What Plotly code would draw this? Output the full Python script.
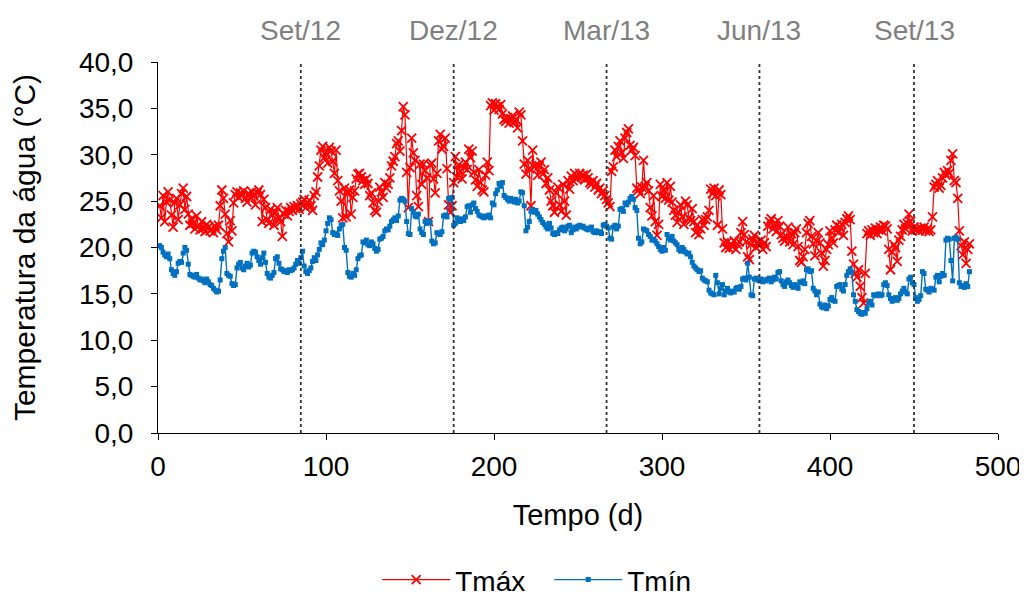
import plotly.graph_objects as go

tmax = [
    24.5, 23.2, 25.6, 22.8, 24.9, 26.0, 25.1, 23.5, 22.2, 24.8,
    25.3, 23.0, 24.6, 25.8, 26.4, 24.1, 25.5, 23.6, 22.4, 23.1,
    22.6, 22.0, 23.4, 22.3, 21.9, 22.8, 22.1, 21.7, 22.5, 22.2,
    21.8, 22.0, 21.6, 22.3, 21.9, 22.4, 24.5, 26.2, 25.3, 23.6,
    21.5, 20.6, 22.9, 21.8, 24.8, 25.7, 26.0, 25.4, 25.9, 25.6,
    26.1, 25.3, 24.9, 25.8, 25.4, 26.0, 25.6, 24.6, 25.9, 26.2,
    25.7, 22.8, 25.2, 24.3, 23.0, 22.6, 24.1, 23.5, 22.4, 23.8,
    24.3, 23.2, 22.8, 21.2, 23.6, 24.0, 23.4, 23.9, 24.3, 24.0,
    24.4, 24.2, 24.5, 24.1, 24.7, 24.9, 25.2, 24.3, 24.8, 25.1,
    24.5, 24.0, 25.6, 26.0, 27.6, 28.8, 30.5, 30.9, 29.7, 30.2,
    29.1, 30.8, 30.4, 29.3, 28.0, 30.5, 27.2, 26.1, 25.0, 23.2,
    26.4, 23.3, 25.8, 26.2, 23.6, 25.4, 26.1, 27.4, 27.9, 28.0,
    27.6, 27.2, 26.8, 27.4, 26.9, 25.6, 25.9, 24.8, 24.0, 23.8,
    25.0, 26.5, 26.0, 25.4, 27.0, 26.4, 26.8, 27.5, 28.8, 29.3,
    29.8, 31.2, 31.5, 30.4, 32.6, 35.2, 34.3, 28.1, 24.3, 28.6,
    31.8, 30.2, 29.4, 25.6, 24.4, 29.0, 26.8, 29.0, 28.3, 27.5,
    22.8, 28.9, 29.1, 27.4, 25.9, 28.0, 31.5, 32.2, 30.6, 30.9,
    31.8, 28.5, 24.6, 23.8, 24.5, 27.0, 29.8, 27.6, 28.9, 28.2,
    27.4, 28.6, 29.2, 28.4, 30.6, 29.7, 30.4, 28.1, 27.3, 26.6,
    28.4, 27.0, 26.2, 26.0, 27.8, 29.2, 28.3, 35.3, 35.6, 34.8,
    35.5, 35.2, 34.9, 35.4, 34.4, 33.8, 33.6, 34.0, 33.4, 33.9,
    34.2, 33.5, 33.8, 32.9, 34.6, 34.3, 31.5, 29.0, 27.9, 29.4,
    28.5, 24.5, 30.5, 28.7, 28.9, 27.8, 28.8, 29.2, 27.9, 28.4,
    26.9, 27.5, 26.2, 25.0, 24.5, 23.8, 25.9, 26.5, 24.6, 23.9,
    26.8, 25.0, 23.5, 27.2, 26.3, 27.7, 27.2, 28.0, 27.4, 27.6,
    28.0, 27.6, 27.8, 27.3, 27.9, 27.5, 27.0, 26.8, 27.2, 26.5,
    26.9, 26.2, 26.4, 25.8, 26.1, 25.6, 25.2, 24.8, 24.4, 28.2,
    28.7, 30.5, 29.8, 30.9, 31.5, 30.2, 29.6, 31.8, 32.4, 32.8,
    31.0, 30.5, 30.8, 29.9, 26.4, 26.2, 25.8, 26.5, 29.4, 26.6,
    27.0, 26.1, 24.3, 23.4, 25.6, 22.8, 21.3, 22.5, 26.8, 25.5,
    26.2, 25.3, 27.0, 25.1, 26.6, 24.9, 24.0, 23.5, 22.7, 23.8,
    24.6, 23.3, 22.5, 25.0, 24.6, 23.2, 22.9, 24.2, 22.8, 21.6,
    22.4, 21.4, 22.0, 23.0, 22.4, 23.0, 23.3, 24.0, 26.3, 25.8,
    26.4, 25.6, 22.4, 26.2, 25.7, 22.0, 20.5, 20.0, 20.6, 19.9,
    20.4, 20.1, 20.7, 19.8, 20.3, 20.6, 21.6, 22.8, 21.4, 20.6,
    19.0, 18.7, 20.3, 20.9, 21.3, 20.0, 20.6, 20.2, 20.8, 19.8,
    20.5, 20.1, 22.3, 22.8, 23.1, 22.0, 22.6, 21.7, 22.9, 22.3,
    21.4, 21.0, 20.7, 21.2, 22.2, 20.6, 21.5, 20.3, 21.6, 22.0,
    20.1, 18.6, 18.4, 19.0, 19.8, 21.6, 22.6, 22.9, 21.2, 20.4,
    19.1, 20.7, 21.6, 20.5, 19.4, 18.0, 18.6, 19.8, 20.3, 21.8,
    21.0, 20.5, 21.9, 22.4, 21.6, 22.2, 22.5, 21.3, 22.7, 23.1,
    23.4, 23.0, 19.6, 18.2, 17.2, 16.8, 17.6, 15.8, 14.6, 14.0,
    17.2, 21.5, 21.8, 21.3, 21.9, 21.6, 22.1, 21.5, 21.9, 22.2,
    21.8, 22.4, 22.3, 22.0, 19.8, 17.6, 19.5, 20.3, 20.0, 18.5,
    20.8, 21.2, 21.9, 22.5, 22.0, 22.6, 23.6, 22.8, 21.8, 22.2,
    21.9, 22.0, 21.8, 22.1, 21.9, 22.2, 21.8, 22.0, 21.7, 21.9,
    23.3, 26.5, 26.8, 27.2, 26.4, 26.7, 27.5, 28.1, 27.8, 28.3,
    28.0, 29.4, 30.1, 27.2, 27.0, 25.3, 21.8, 20.2, 19.2, 20.6,
    18.3, 19.8, 20.4,
]

tmin = [
    20.2, 20.0, 19.5, 19.2, 19.0, 19.3, 18.8, 17.6, 17.2, 17.0,
    17.4, 18.3, 18.5, 18.4, 19.4, 20.0, 19.7, 18.2, 17.1, 17.0,
    16.9, 16.8, 17.1, 16.7, 16.5, 16.6, 16.4, 16.2, 16.6, 16.3,
    16.0, 15.9, 15.6, 15.4, 15.2, 15.3, 16.5, 18.8, 19.6, 20.0,
    17.2, 17.0, 16.9, 16.1, 15.9, 16.0, 17.8, 18.2, 18.4, 17.8,
    17.6, 18.0, 18.3, 17.9, 18.1, 19.4, 19.6, 19.5, 19.0, 18.6,
    18.2, 18.9, 19.4, 18.4, 17.2, 16.8, 16.7, 17.0, 17.3, 18.8,
    19.0, 18.3, 17.7, 17.6, 17.4, 17.5, 17.3, 17.6, 17.5, 17.6,
    17.8, 18.2, 18.6, 18.3, 18.9, 19.6, 18.0, 17.4, 17.2, 17.5,
    17.8, 18.5, 18.9, 18.6, 19.2, 19.8, 20.5, 20.3, 20.8, 21.8,
    22.6, 23.2, 23.0, 21.6, 21.4, 21.5, 21.3, 22.0, 22.4, 22.5,
    20.0, 19.7, 17.3, 16.9, 16.8, 17.2, 17.0, 17.6, 18.8, 19.1,
    19.2, 20.6, 20.5, 20.8, 20.3, 20.2, 20.6, 20.4, 19.9, 19.6,
    19.8, 20.9, 21.0, 21.2, 21.8, 22.0, 21.9, 22.3, 22.8, 23.0,
    23.2, 22.9, 23.4, 25.1, 25.3, 25.2, 25.0, 22.8, 21.5, 21.4,
    24.2, 23.8, 23.4, 23.3, 23.6, 22.0, 21.6, 21.4, 22.8, 22.6,
    22.9, 22.7, 20.7, 20.4, 20.5, 21.6, 21.5, 21.4, 21.7, 23.4,
    23.5, 23.3, 25.3, 25.2, 25.4, 22.4, 22.6, 23.2, 23.0, 22.8,
    23.1, 22.9, 23.3, 24.4, 24.5, 23.8, 24.6, 24.8, 24.2, 23.9,
    23.5, 23.4, 23.3, 23.2, 23.4, 23.3, 23.5, 23.2, 24.8, 24.6,
    25.8, 26.2, 26.9, 26.6, 27.0, 25.6, 25.4, 25.2, 25.0, 25.3,
    25.1, 24.9, 25.2, 24.8, 25.0, 26.0, 25.9, 24.5, 21.8, 22.2,
    22.8, 23.9, 24.1, 23.8, 24.0, 23.6, 23.3, 23.0, 22.7, 22.5,
    22.2, 22.0, 22.6, 22.1, 21.5, 21.4, 21.6, 21.5, 21.9, 22.1,
    22.2, 21.8, 22.0, 22.3, 22.4, 21.6, 21.9, 22.2, 22.0, 22.3,
    22.4, 22.2, 22.3, 22.1, 22.0, 21.9, 22.1, 22.2, 21.7, 21.6,
    21.8, 21.6, 21.7, 21.5, 22.4, 22.5, 22.3, 22.1, 21.0, 20.9,
    22.2, 22.4, 22.0, 22.3, 24.1, 24.2, 23.9, 24.8, 24.6, 24.9,
    25.3, 25.5, 25.2, 24.3, 24.0, 21.0, 20.4, 20.6, 22.0, 21.9,
    21.8, 21.4, 21.2, 20.8, 20.9, 20.7, 20.4, 20.1, 19.8, 19.6,
    20.0, 19.7, 21.4, 21.0, 20.8, 21.2, 20.7, 20.5, 20.3, 19.8,
    19.6, 20.0, 19.8, 19.5, 19.3, 19.4, 19.0, 18.4, 18.0, 17.8,
    17.6, 17.4, 17.5, 16.7, 16.5, 16.4, 16.3, 15.4, 15.1, 15.0,
    14.9, 17.0, 16.2, 15.0, 15.6, 16.0, 14.9, 15.3, 15.6, 15.2,
    15.1, 15.3, 15.2, 15.6, 15.7, 15.5, 15.8, 16.6, 16.7, 16.5,
    18.3, 16.8, 14.9, 14.8, 16.6, 16.7, 16.5, 16.4, 16.6, 16.3,
    16.5, 16.4, 16.6, 16.7, 16.3, 16.5, 16.8, 16.6, 17.3, 17.4,
    16.4, 16.0, 15.8, 16.3, 16.5, 16.2, 15.9, 15.7, 16.0, 15.8,
    15.6, 16.3, 16.2, 16.4, 16.1, 17.6, 17.7, 17.4, 17.5, 15.6,
    15.3, 14.9, 15.2, 13.9, 13.6, 13.5, 13.8, 13.4, 13.7, 14.4,
    14.6, 14.3, 14.2, 15.8, 15.9, 16.0, 15.5, 15.3, 16.0, 17.0,
    17.4, 17.7, 17.3, 14.9, 14.2, 13.3, 13.1, 12.9, 12.8, 13.0,
    12.9, 13.4, 14.0, 14.2, 13.8, 14.9, 14.8, 14.9, 15.0, 14.8,
    14.9, 16.0, 16.2, 15.9, 14.9, 14.5, 14.2, 14.4, 14.6, 14.3,
    14.5, 15.0, 15.3, 15.6, 15.2, 15.0, 16.6, 16.8, 16.2, 16.0,
    14.6, 14.2, 14.4, 14.8, 17.4, 17.2, 15.5, 15.4, 15.2, 15.6,
    15.5, 15.4, 16.8, 17.0, 16.3, 16.9, 17.2, 17.0, 20.8, 21.0,
    20.9, 18.6, 16.4, 21.0, 21.1, 20.9, 16.2, 15.8, 15.9, 15.7,
    16.1, 15.8, 17.4,
]

days = list(range(1, len(tmax) + 1))

month_days = [85, 176, 267, 358, 450]
month_labels = ["Set/12", "Dez/12", "Mar/13", "Jun/13", "Set/13"]

FONT = "Liberation Sans, Arial, sans-serif"

fig = go.Figure()
fig.add_trace(go.Scatter(
    x=days, y=tmax, name="Tmáx", mode="lines+markers",
    line=dict(color="#FF0000", width=1.2),
    marker=dict(symbol="x-thin", size=9, color="#FF0000",
                line=dict(color="#FF0000", width=1.8)),
))
fig.add_trace(go.Scatter(
    x=days, y=tmin, name="Tmín", mode="lines+markers",
    line=dict(color="#0070C0", width=1.4),
    marker=dict(symbol="square", size=5, color="#0070C0"),
))

for d, lab in zip(month_days, month_labels):
    fig.add_shape(type="line", xref="x", yref="paper", x0=d, x1=d, y0=0, y1=1,
                  line=dict(color="#333333", width=1.8, dash="dot"))
    fig.add_annotation(x=d, xref="x", y=1, yref="paper", yanchor="middle",
                       yshift=32, text=lab, showarrow=False,
                       font=dict(family=FONT, size=28, color="#7F7F7F"))

fig.update_layout(
    width=1019, height=588,
    margin=dict(l=150, r=29, t=54, b=163, autoexpand=False),
    paper_bgcolor="white", plot_bgcolor="white",
    separators=", ",
    font=dict(family=FONT, size=28, color="#000000"),
    showlegend=True,
    legend=dict(orientation="h", x=0.261, xanchor="left", y=-0.396,
                yanchor="middle", font=dict(family=FONT, size=28),
                itemwidth=68, entrywidth=89, entrywidthmode="pixels"),
)
fig.update_xaxes(
    range=[0, 500], dtick=100, tick0=0, automargin=False,
    showline=True, linecolor="#000000", linewidth=1,
    ticks="outside", ticklen=6, tickcolor="#000000",
    showgrid=False, zeroline=False,
    tickfont=dict(family=FONT, size=28), ticklabelstandoff=2,
    title=dict(text="Tempo (d)", font=dict(family=FONT, size=29), standoff=24),
)
fig.update_yaxes(
    range=[0, 40], dtick=5, tick0=0, tickformat=".1f", automargin=False,
    showline=True, linecolor="#000000", linewidth=1,
    ticks="outside", ticklen=6, tickcolor="#000000",
    showgrid=False, zeroline=False,
    tickfont=dict(family=FONT, size=28), ticklabelstandoff=12,
    title=dict(text="Temperatura da água (°C)", font=dict(family=FONT, size=30), standoff=38),
)

fig.write_html("out.html")
